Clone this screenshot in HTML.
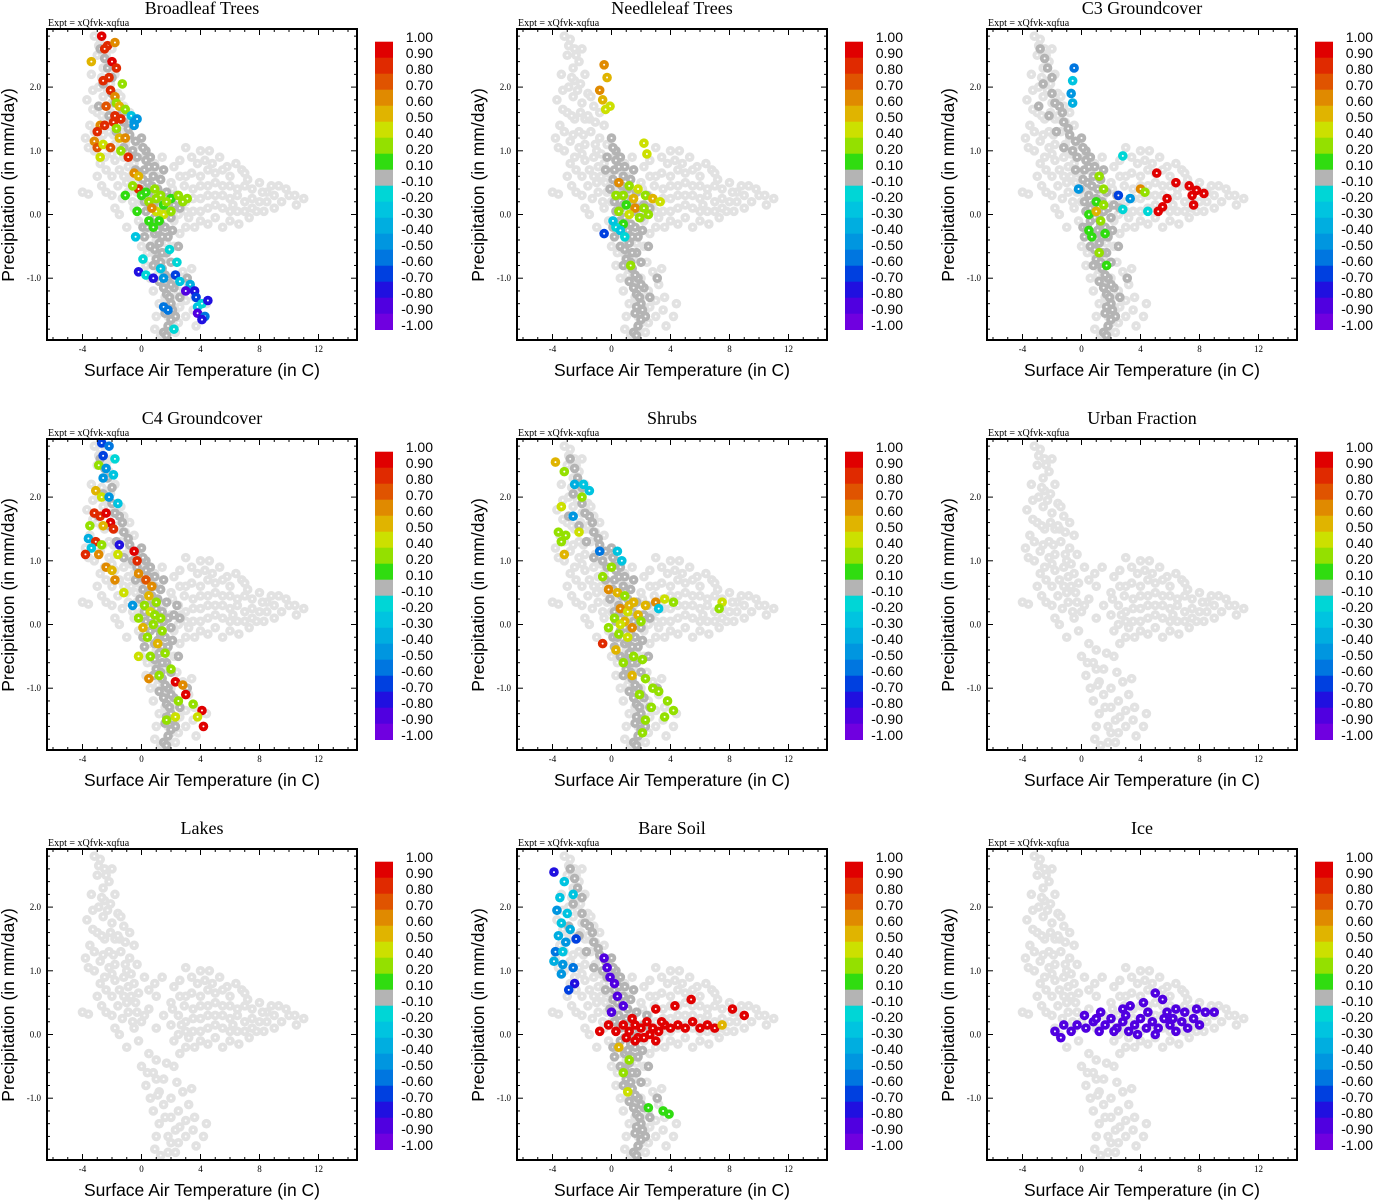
<!DOCTYPE html>
<html><head><meta charset="utf-8">
<style>
html,body{margin:0;padding:0;background:#fff;}
svg{display:block;}
.ttl{font-family:"Liberation Serif",serif;font-size:18px;fill:#000;}
.expt{font-family:"Liberation Serif",serif;font-size:10px;fill:#000;}
.tick{font-family:"Liberation Serif",serif;font-size:9px;fill:#000;}
.axl{font-family:"Liberation Sans",sans-serif;font-size:17.5px;fill:#000;}
.cbl{font-family:"Liberation Sans",sans-serif;font-size:14px;fill:#000;}
</style></head>
<body>
<svg id="fig" width="1373" height="1200" viewBox="0 0 1373 1200" xmlns="http://www.w3.org/2000/svg"></svg>
<script>
// ---- data ----
const panelTitles = ["Broadleaf Trees","Needleleaf Trees","C3 Groundcover","C4 Groundcover","Shrubs","Urban Fraction","Lakes","Bare Soil","Ice"];
const xTicks = [-4,0,4,8,12];
const yTicks = [-1,0,1,2];
const yTickLabels = ["-1.0","0.0","1.0","2.0"];
const cbLabels = ["1.00","0.90","0.80","0.70","0.60","0.50","0.40","0.20","0.10","-0.10","-0.20","-0.30","-0.40","-0.50","-0.60","-0.70","-0.80","-0.90","-1.00"];
const cbColors = ["#e00000","#e02a00","#e05400","#e08a00","#e0b400","#cce000","#94e000","#30dc10","#b4b4b4","#00d6d6","#00c4e0","#00aee0","#0096e0","#0076e0","#0040e0","#2010e0","#5000e0","#7000e0"];

// shared light-grey background cloud [temperature, precipitation]
const bgCloud = [[-3.2,2.8],[-2.8,2.75],[-2.5,2.6],[-3,2.5],[-2.2,2.4],[-2.6,2.3],[-3.4,2.2],[-1.8,2.2],[-2.9,2.0],[-2.3,1.95],[-1.6,1.9],[-3.7,1.8],[-2,1.75],[-1.2,1.7],[-3,1.6],[-2.5,1.5],[-1.8,1.5],[-0.8,1.6],[-3.5,1.4],[-2.2,1.3],[-1.4,1.3],[-3.8,1.2],[-2.8,1.15],[-0.8,1.2],[-1.8,1.1],[-3.2,1.0],[-1,1.0],[-0.3,1.1],[-2.5,0.9],[-0.5,1.4],[3,1.05],[4,1.0],[4.6,1.0],[-0.5,0.8],[0.2,0.9],[-1.5,0.7],[0.5,0.7],[-3,0.6],[-1,0.5],[-4,0.35],[-3.6,0.32],[-2,0.3],[-1.3,0.25],[0.5,0.4],[-0.6,0.2],[-1.8,0.1],[-2.4,0.35],[2,0.5],[3,0.6],[4,0.6],[5,0.65],[6,0.6],[3.5,0.4],[4.5,0.45],[5.5,0.45],[6.5,0.4],[7.5,0.4],[8.5,0.35],[9,0.3],[10,0.3],[11,0.25],[3,0.2],[4,0.25],[5,0.3],[6,0.25],[7,0.2],[8,0.2],[9.5,0.2],[2.5,0],[3.5,0.05],[4.5,0.1],[5.5,0.1],[6.5,0.05],[7.5,0.1],[4,-0.1],[5,-0.05],[6,-0.1],[3,-0.2],[2.5,0.3],[4.8,0.8],[5.8,0.75],[6.8,0.7],[3.8,0.8],[7.2,0.55],[8,0.5],[8.8,0.45],[9.8,0.4],[2.2,0.75],[6.2,0.15],[7.8,0.05],[3.2,-0.05],[0.5,-0.3],[1,-0.4],[0.8,-0.6],[1.5,-0.7],[1.2,-0.9],[2,-1.0],[1.5,-1.1],[2.5,-1.2],[2,-1.3],[3,-1.35],[2.3,-1.5],[3.5,-1.5],[1.8,-1.6],[2.5,-1.7],[1.8,-1.85],[1.3,-1.9],[4.2,-1.6],[0,-0.5],[-0.2,-0.1],[-1,-0.2],[-1.5,0],[-0.5,0.1],[0.2,0.3],[1,0.1],[1.5,0.3],[1,0.6],[0.3,-0.8],[0.8,-1.2],[1.2,-1.4],[2.8,-0.9],[3.2,-1.1],[2.2,-0.5],[0,0.2],[-0.4,0.5],[-1.2,0.9],[-2,0.6],[-2.8,0.8],[-1.5,1.5],[-2.5,2.1],[-2,2.6]];
const bgCloudExtra = [[-2.9,2.65],[-2.4,2.5],[-2.7,2.15],[-2.1,2.05],[-3.3,1.95],[-2.6,1.85],[-1.4,1.85],[-3.3,1.65],[-2.7,1.55],[-2.1,1.6],[-1.6,1.55],[-1.1,1.45],[-3.2,1.3],[-2.6,1.25],[-1.9,1.25],[-1.1,1.1],[-2.2,1.05],[-3.6,1.05],[-2,0.95],[-0.7,0.95],[-1.8,0.85],[-0.9,0.75],[-2.4,0.7],[-0.2,0.65],[-1.2,0.6],[-0.7,0.6],[-1.6,0.45],[-0.3,0.35],[-0.9,0.35],[-2.7,0.45],[0.9,0.8],[1.4,0.9],[2.6,0.85],[3.4,0.9],[4.3,0.85],[5.3,0.9],[2.6,0.6],[3.4,0.65],[4.5,0.7],[5.5,0.7],[6.4,0.8],[7,0.65],[2.1,0.4],[2.9,0.45],[4,0.45],[5,0.5],[6,0.45],[7,0.45],[8.2,0.35],[9.3,0.45],[10.4,0.3],[2,0.15],[2.7,0.15],[3.5,0.25],[4.5,0.3],[5.5,0.3],[6.5,0.3],[7.5,0.25],[8.5,0.2],[9,0.1],[10.5,0.15],[2.2,-0.1],[3,0.05],[4,0.05],[5,0.15],[6,0.05],[7,0.05],[8.3,0.05],[3.6,-0.2],[4.5,-0.15],[5.5,-0.2],[6.6,-0.15],[7.3,-0.05],[2.6,-0.3],[0.4,-0.6],[1,-0.7],[0.6,-1.0],[1.6,-1.3],[2.6,-1.45],[3,-1.6],[2,-1.7],[1,-1.6],[3.7,-1.75],[2.3,-1.85],[0.9,-1.8],[1.7,-0.45],[1.1,-0.95],[2.4,-0.75],[3.4,-0.85],[3.6,-1.3],[4.4,-1.4]];

// shared darker grey (|r|<0.1) core cloud
const coreCloud = [[0,1.2],[0.3,1.0],[0.6,0.9],[0.2,0.7],[0.8,0.6],[0.4,0.5],[1.1,0.4],[0.5,0.3],[1.4,0.2],[0.8,0.15],[1.8,0.1],[0.3,0.05],[1.2,0],[2,-0.05],[0.6,-0.1],[1.6,-0.2],[0.9,-0.3],[1.8,-0.35],[1.2,-0.45],[0.6,-0.5],[1.7,-0.6],[1,-0.7],[2,-0.75],[1.4,-0.85],[1.8,-1.0],[1.2,-1.05],[2.2,-1.15],[1.7,-1.25],[2,-1.4],[1.6,-1.55],[2.3,-1.6],[1.8,-1.75],[1.5,-1.85],[-0.1,0.4],[0.1,-0.2],[2.4,0.3],[2.6,0.1],[-0.3,0.9],[1.5,0.7],[1.3,-0.15],[0.2,-0.35],[2.5,-0.5],[3.1,-1.0],[2.6,-1.3],[0.1,1.05],[0.5,0.75],[0.9,0.75],[0.1,0.55],[0.7,0.45],[1.3,0.55],[1.0,0.25],[1.7,0.35],[0.2,0.2],[0.6,0.1],[1.5,0.05],[2.2,0.15],[0.9,-0.05],[0.4,-0.2],[1.1,-0.25],[2.1,-0.25],[1.4,-0.35],[0.9,-0.55],[1.4,-0.6],[0.8,-0.8],[1.3,-0.75],[1.6,-0.95],[2.0,-1.1],[1.5,-1.15],[1.9,-1.3],[1.7,-1.45],[2.1,-1.5],[2.0,-1.65],[1.7,-1.9],[-0.4,0.7],[0.3,0.85]];
const upperDark = [[-2.8,2.6],[-2.3,2.3],[-2.6,2.05],[-2,1.9],[-1.5,1.7],[-2.2,1.55],[-1.2,1.45],[-1.7,1.3],[-0.8,1.25],[-1.2,1.05],[-0.6,1.0],[-2.9,1.7],[-1.8,1.75],[-2.5,2.45],[-2.0,2.15],[-1.3,1.6],[-0.9,1.35],[-0.4,1.15]];

// colored points per panel [temperature, precipitation, correlation]
const pBroadleaf = [[-2.7,2.8,0.9],[-2.3,2.65,0.8],[-2.5,2.6,0.8],[-1.8,2.7,0.6],[-3.4,2.4,0.5],[-2,2.4,0.9],[-1.7,2.3,0.8],[-2.2,2.15,0.8],[-2.6,2.1,0.8],[-1.3,2.05,0.3],[-2.1,1.95,0.8],[-1.8,1.85,0.6],[-1.7,1.75,0.3],[-2.4,1.7,0.7],[-1.5,1.7,0.5],[-1.1,1.65,0.2],[-1.8,1.55,0.8],[-2.8,1.4,0.6],[-2.5,1.4,0.8],[-1.9,1.45,0.8],[-1.4,1.5,0.8],[-1.7,1.35,0.2],[-3,1.3,0.8],[-1.5,1.2,0.5],[-1.1,1.2,0.6],[-3.2,1.15,0.6],[-3,1.05,0.7],[-2.6,1.1,0.4],[-2.1,1.05,0.7],[-1.4,1.0,0.2],[-2.8,0.9,0.4],[-0.9,0.9,0.8],[-0.7,1.55,-0.3],[-0.5,1.45,-0.5],[-0.3,1.5,-0.5],[-0.5,1.4,-0.5],[-0.5,0.65,0.6],[-0.2,0.6,0.5],[-0.2,0.4,0.8],[-0.6,0.45,0.2],[0,0.3,0.1],[-1.1,0.3,0.1],[-0.3,0.05,0.1],[0.5,0.2,0.2],[1,0.25,0.3],[1.5,0.15,0.1],[1,0.05,0.4],[0.7,0.1,0.6],[2,0.25,0.1],[2.5,0.3,0.2],[3.1,0.25,0.3],[2.8,0.2,0.2],[1.5,0,0.4],[2,0.05,0.2],[0.5,-0.1,0.1],[1.2,-0.1,0.1],[0.8,-0.2,0.1],[0.3,0.35,0.1],[1.3,0.3,0.2],[0.9,0.4,0.3],[1.7,0.2,0.2],[-0.4,-0.35,-0.3],[0.1,-0.7,-0.2],[1.9,-0.55,-0.2],[2.4,-0.75,-0.2],[1.3,-0.85,-0.3],[-0.2,-0.9,-0.8],[0.3,-0.95,-0.2],[0.8,-1.0,-0.8],[1.5,-1.0,-0.5],[2.3,-0.95,-0.7],[2.6,-1.05,-0.3],[3.3,-1.1,-0.4],[3,-1.2,-0.9],[3.6,-1.2,-0.8],[3.7,-1.3,-0.7],[1.5,-1.45,-0.6],[3.8,-1.45,-0.3],[4.1,-1.4,-0.2],[4.5,-1.35,-0.8],[3.8,-1.55,-0.9],[4.3,-1.6,-0.6],[4.1,-1.65,-0.8],[2.2,-1.8,-0.2],[1.8,-1.5,-0.6]];
const pNeedleleaf = [[-0.5,2.35,0.6],[-0.3,2.15,0.5],[-0.8,1.95,0.6],[-0.1,1.7,0.4],[-0.4,1.65,0.4],[-0.6,1.8,0.5],[2.2,1.12,0.4],[2.4,0.95,0.4],[0.5,0.5,0.6],[1.2,0.45,0.2],[1.8,0.4,0.4],[0.3,0.3,0.3],[0.8,0.3,0.2],[1.5,0.25,0.5],[2.3,0.3,0.2],[2.8,0.25,0.5],[3.3,0.2,0.4],[1,0.15,0.1],[1.6,0.1,0.6],[2.2,0.1,0.3],[0.5,0.05,0.2],[1.2,0,0.4],[1.9,-0.05,0.2],[0.8,-0.15,0.1],[2.5,0.0,0.2],[0.3,-0.2,-0.2],[0.6,-0.25,-0.3],[0.9,-0.35,-0.2],[0.1,-0.1,-0.3],[-0.5,-0.3,-0.7],[1.3,-0.8,0.2]];
const pC3 = [[-0.5,2.3,-0.6],[-0.6,2.1,-0.3],[-0.7,1.9,-0.5],[-0.6,1.75,-0.4],[2.8,0.92,-0.2],[5.1,0.65,0.9],[6.4,0.5,0.9],[7.3,0.45,0.9],[7.8,0.38,0.9],[8.3,0.33,0.9],[5.8,0.25,0.9],[7.5,0.3,0.9],[7.6,0.15,0.9],[5.5,0.12,0.9],[5.2,0.05,0.9],[4,0.4,0.6],[4.3,0.35,0.3],[2.5,0.3,-0.7],[3.3,0.25,-0.5],[2.8,0.08,-0.2],[4.5,0.05,-0.2],[1.2,0.6,0.2],[1.5,0.4,0.2],[1,0.2,0.1],[1.5,0.15,0.2],[0.5,0.0,0.1],[1,0.05,0.5],[1.3,-0.1,0.2],[1.6,-0.3,0.1],[0.7,-0.35,0.1],[1.2,-0.6,0.2],[1.7,-0.8,0.1],[0.5,-0.25,0.1],[-0.2,0.4,-0.5]];
const pC4 = [[-2.7,2.85,-0.7],[-2.2,2.8,-0.6],[-2.6,2.65,-0.7],[-1.8,2.6,-0.2],[-2.9,2.5,0.2],[-2.4,2.45,-0.5],[-1.9,2.35,-0.3],[-2.6,2.3,-0.5],[-3.1,2.1,0.5],[-2.7,2.0,0.4],[-2.2,2.0,-0.5],[-1.6,1.9,-0.3],[-3.2,1.75,0.8],[-2.8,1.7,0.8],[-2.4,1.75,0.9],[-2.1,1.6,0.9],[-3.5,1.55,0.3],[-2.6,1.55,0.5],[-1.9,1.5,0.8],[-3.6,1.35,-0.4],[-3.1,1.3,0.8],[-2.7,1.25,0.2],[-1.5,1.25,-0.8],[-3.4,1.2,-0.3],[-3.8,1.1,0.8],[-2.9,1.1,0.6],[-1.6,1.1,0.4],[-0.5,1.15,0.9],[-0.3,1.0,0.8],[-0.2,0.8,0.6],[-2.4,0.9,0.6],[-2,0.85,0.5],[-1.8,0.7,0.6],[-1.2,0.5,0.4],[0.3,0.7,0.7],[0.7,0.6,0.6],[0.5,0.45,0.5],[1,0.35,0.3],[0.2,0.3,0.2],[0.6,0.2,0.4],[-0.2,0.1,0.3],[1.3,0.1,0.2],[0.8,0,0.3],[-0.6,0.3,-0.5],[0.4,-0.2,0.2],[1.1,-0.3,0.5],[1.6,-0.45,0.2],[0.6,-0.5,0.3],[2,-0.7,0.3],[1.2,-0.8,0.2],[2.3,-0.9,0.9],[2.8,-0.95,0.6],[0.5,-0.85,0.6],[3,-1.1,0.9],[2.5,-1.2,0.2],[3.5,-1.25,0.3],[4.1,-1.35,0.9],[3.8,-1.45,0.4],[4.2,-1.6,0.9],[2.3,-1.45,0.4],[1.7,-1.5,0.2],[-0.2,-0.5,0.4],[0.9,0.15,0.2],[1.4,-0.1,0.3],[0.1,-0.05,0.5]];
const pShrubs = [[-3.8,2.55,0.5],[-3.2,2.4,0.3],[-2.5,2.2,-0.4],[-1.9,2.2,-0.3],[-1.5,2.1,-0.3],[-2,2.0,0.2],[-3.4,1.85,0.4],[-2.6,1.7,-0.5],[-3.6,1.45,0.3],[-3.1,1.4,0.3],[-2.2,1.45,0.4],[-3.4,1.3,0.2],[-3.2,1.1,0.5],[-0.8,1.15,-0.6],[0.4,1.15,-0.3],[0.7,1.0,-0.3],[0,0.9,0.2],[-0.6,0.75,0.3],[-0.2,0.55,0.6],[0.4,0.5,0.5],[0.9,0.45,0.3],[1.5,0.35,0.5],[2.3,0.3,0.5],[3,0.35,0.6],[4.2,0.35,0.2],[3.6,0.4,0.4],[3.2,0.25,-0.3],[0.6,0.25,0.6],[1.1,0.2,0.4],[1.8,0.15,0.5],[0.2,0.1,0.2],[0.9,0.05,0.5],[1.4,-0.05,0.6],[2,0.05,0.3],[-0.2,-0.05,0.2],[0.5,-0.15,0.3],[1.1,-0.2,0.4],[-0.6,-0.3,0.8],[0.3,-0.4,0.5],[1.5,-0.5,0.3],[2.1,-0.55,0.2],[0.8,-0.6,0.3],[1.4,-0.8,0.5],[2.3,-0.85,0.3],[2.8,-1.0,0.2],[3.2,-1.05,0.2],[1.9,-1.1,0.2],[3.8,-1.2,0.2],[2.7,-1.3,0.2],[4.2,-1.35,0.3],[2.3,-1.5,0.2],[3.6,-1.45,0.3],[2.1,-1.7,0.3],[7.5,0.35,0.4],[7.3,0.25,0.3],[1.2,0.3,0.5],[0.6,0.0,0.4]];
const pBareSoil = [[-3.9,2.55,-0.8],[-3.2,2.4,-0.3],[-3.5,2.15,-0.3],[-2.6,2.2,-0.3],[-3.7,1.95,-0.5],[-3,1.9,-0.3],[-3.4,1.75,-0.3],[-2.8,1.65,-0.4],[-3.6,1.55,-0.4],[-3.1,1.45,-0.5],[-2.4,1.5,-0.7],[-3.8,1.3,-0.6],[-3.3,1.3,-0.3],[-3.9,1.15,-0.4],[-3.3,1.1,-0.5],[-2.6,1.05,-0.6],[-3.4,0.95,-0.5],[-2.5,0.8,-0.8],[-2.9,0.7,-0.7],[-0.5,1.2,-0.9],[-0.3,1.05,-0.9],[-0.1,0.9,-0.9],[0.2,0.8,-0.9],[0.4,0.6,-0.9],[0.8,0.45,-0.9],[0,0.35,-0.9],[-0.8,0.05,0.9],[-0.2,0.15,0.9],[0.3,0.05,0.9],[0.8,0.15,0.9],[1.2,0.05,0.9],[1.6,0.15,0.9],[2,0.1,0.9],[2.4,0.2,0.9],[2.8,0.1,0.9],[3.2,0.05,0.9],[3.6,0.15,0.9],[4,0.1,0.9],[4.5,0.15,0.9],[5,0.1,0.9],[5.5,0.2,0.9],[6,0.1,0.9],[6.5,0.15,0.9],[7,0.1,0.9],[5.4,0.55,0.9],[4.3,0.45,0.9],[3,0.4,0.9],[8.2,0.4,0.9],[9,0.3,0.9],[7.5,0.15,0.5],[1,-0.05,0.9],[1.8,-0.05,0.9],[0.5,-0.2,0.5],[1.2,-0.4,0.3],[0.8,-0.6,0.2],[1.1,-0.9,0.4],[2.5,-1.15,0.1],[3.5,-1.2,0.1],[3.9,-1.25,0.1],[3,-0.1,0.9],[2.2,-0.05,0.9],[1.4,0.25,0.9],[2.6,0.0,0.9],[3.4,0.2,0.9],[1.6,-0.1,0.9]];
const pIce = [[-1.8,0.05,-0.9],[-1.2,0.15,-0.9],[-0.7,0.05,-0.9],[-0.3,0.15,-0.9],[0.3,0.1,-0.9],[0.8,0.2,-0.9],[1.2,0.05,-0.9],[1.6,0.15,-0.9],[2,0.25,-0.9],[2.4,0.1,-0.9],[2.8,0.2,-0.9],[3.2,0.05,-0.9],[3.6,0.15,-0.9],[4,0.25,-0.9],[4.4,0.1,-0.9],[4.8,0.2,-0.9],[5.2,0.1,-0.9],[5.6,0.25,-0.9],[6,0.15,-0.9],[6.4,0.05,-0.9],[6.8,0.2,-0.9],[7.2,0.1,-0.9],[7.6,0.25,-0.9],[8,0.15,-0.9],[8.4,0.35,-0.9],[9,0.35,-0.9],[7.8,0.4,-0.9],[5,0.65,-0.9],[5.5,0.55,-0.9],[4.2,0.5,-0.9],[3.3,0.45,-0.9],[2.8,0.4,-0.9],[6.4,0.4,-0.9],[7,0.35,-0.9],[1.3,0.35,-0.9],[0.2,0.3,-0.9],[-1.4,-0.05,-0.9],[3,0.3,-0.9],[4.5,0.35,-0.9],[5.8,0.35,-0.9],[2.2,0.05,-0.9],[3.8,0.0,-0.9],[5.0,0.0,-0.9],[6.2,0.25,-0.9],[1.0,0.25,-0.9]];
const panelPoints = [pBroadleaf,pNeedleleaf,pC3,pC4,pShrubs,[],[],pBareSoil,pIce];
const panelCore = [1,1,1,1,1,0,0,1,0];
const panelUpper = [1,0,1,1,1,0,0,1,0];

// ---- drawing ----
const NS="http://www.w3.org/2000/svg";
const svg=document.getElementById('fig');
function mk(tag,attrs,parent){const e=document.createElementNS(NS,tag);for(const k in attrs)e.setAttribute(k,attrs[k]);(parent||svg).appendChild(e);return e;}
function colorFor(v){
  const a=Math.abs(v);
  if(a<0.1) return cbColors[8];
  let idx;
  if(v>0){ idx = a>=0.9?0:a>=0.8?1:a>=0.7?2:a>=0.6?3:a>=0.5?4:a>=0.4?5:a>=0.2?6:7; }
  else { idx = a<0.2 ? 9 : Math.min(17, 9+Math.floor(a*10+1e-6)-2); }
  return cbColors[idx];
}
for(let i=0;i<9;i++){
  const ox=(i%3)*470, oy=Math.floor(i/3)*410;
  const g=mk('g',{});
  
  
  const L=47+ox,R=357+ox,T=29+oy,B=340+oy;
  const sx=t=>141.5+ox+14.75*t, sy=p=>214.5+oy-63.7*p;
  const clip=mk('clipPath',{id:'c'+i},g); mk('rect',{x:L,y:T,width:R-L,height:B-T},clip);
  const pts=mk('g',{'clip-path':'url(#c'+i+')'},g);
  
  
  function dot(t,p,col){
    const c=mk('circle',{cx:sx(t),cy:sy(p),r:4.8,fill:col},pts);
    
    
    mk('circle',{cx:sx(t),cy:sy(p),r:1,fill:'#fff'},pts);
  }
  bgCloud.forEach(d=>dot(d[0],d[1],'#e2e2e2'));
  bgCloudExtra.forEach(d=>dot(d[0],d[1],'#e2e2e2'));
  if(panelUpper[i]) upperDark.forEach(d=>dot(d[0],d[1],'#b4b4b4'));
  if(panelCore[i]) coreCloud.forEach(d=>dot(d[0],d[1],'#b4b4b4'));
  panelPoints[i].forEach(d=>dot(d[0],d[1],colorFor(d[2])));
  const fr=mk('rect',{x:L,y:T,width:R-L,height:B-T,fill:'none',stroke:'#000','stroke-width':2},g);
  
  
  for(let t=-6;t<=14;t++){
    const x=sx(t); if(x<L||x>R) continue;
    const len=(t%4===0)?6:3;
    mk('line',{x1:x,y1:B,x2:x,y2:B-len,stroke:'#000','stroke-width':1},g);
    mk('line',{x1:x,y1:T,x2:x,y2:T+len,stroke:'#000','stroke-width':1},g);
  }
  xTicks.forEach(t=>{const tx=mk('text',{x:sx(t),y:B+12,'text-anchor':'middle',class:'tick'},g);tx.textContent=t;
    });
  for(let k=-10;k<=15;k++){
    const p=k*0.2,y=sy(p); if(y<T||y>B) continue;
    const len=(k%5===0)?6:3;
    mk('line',{x1:L,y1:y,x2:L+len,y2:y,stroke:'#000','stroke-width':1},g);
    mk('line',{x1:R,y1:y,x2:R-len,y2:y,stroke:'#000','stroke-width':1},g);
  }
  yTicks.forEach((p,j)=>{const tx=mk('text',{x:L-6,y:sy(p)+3,'text-anchor':'end',class:'tick'},g);tx.textContent=yTickLabels[j];
    });
  const tt=mk('text',{x:202+ox,y:14+oy,'text-anchor':'middle',class:'ttl'},g);tt.textContent=panelTitles[i];
  
  const ex=mk('text',{x:48+ox,y:26+oy,class:'expt'},g);ex.textContent='Expt = xQfvk-xqfua';
  
  const xl=mk('text',{x:202+ox,y:376+oy,'text-anchor':'middle',class:'axl'},g);xl.textContent='Surface Air Temperature (in C)';
  
  const yl=mk('text',{x:0,y:0,'text-anchor':'middle',class:'axl',transform:`translate(${14+ox},${185+oy}) rotate(-90)`},g);yl.textContent='Precipitation (in mm/day)';
  
  const cb=mk('g',{},g);
  
  
  cbColors.forEach((c,j)=>mk('rect',{x:375+ox,y:41.7+oy+16*j,width:18,height:16.3,fill:c},cb));
  cbLabels.forEach((s,j)=>{const tx=mk('text',{x:433+ox,y:42+oy+16*j,'text-anchor':'end',class:'cbl'},cb);tx.textContent=s;
    });
}
</script>
</body></html>
